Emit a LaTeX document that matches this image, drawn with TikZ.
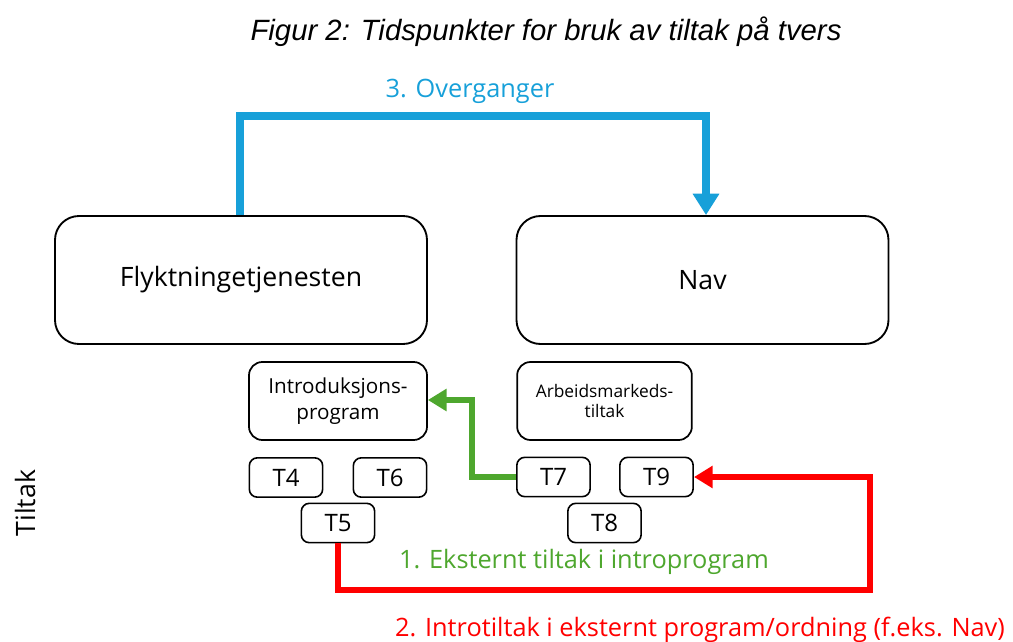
\documentclass[tikz,border=0pt]{standalone}
\usepackage{fontspec}
\setmainfont{Open Sans}
\newfontfamily\titlefont{Liberation Sans}
\usetikzlibrary{arrows.meta}
\definecolor{cblue}{HTML}{17A0D9}
\definecolor{cgreen}{HTML}{4EA72E}
\definecolor{cred}{HTML}{FF0000}
\tikzset{
  bigbox/.style={draw, line width=1.4pt, rounded corners=18pt, minimum width=279pt, minimum height=96pt, font=\fontsize{20}{24}\selectfont},
  midbox/.style={draw, line width=1.3pt, rounded corners=10pt, minimum height=58.5pt, align=center},
  tbox/.style={draw, line width=1.2pt, rounded corners=6pt, minimum width=55pt, minimum height=29.5pt, font=\fontsize{18}{21}\selectfont},
  lbl/.style={font=\fontsize{19}{23}\selectfont},
  conn/.style={line width=#1, line join=miter},
}
\begin{document}
\begin{tikzpicture}[x=0.75pt,y=-0.75pt]
\useasboundingbox (0,0) rectangle (1013,642);
\node[font=\titlefont\itshape\fontsize{22}{26}\selectfont] (title) at (546,32) {Figur 2: Tidspunkter for bruk av tiltak på tvers};
\node[bigbox] (fly) at (241,280) {Flyktningetjenesten};
\node[bigbox] (nav) at (702.5,280) {Nav};
\node[midbox, minimum width=133.5pt, font=\fontsize{15.5}{20}\selectfont] (intro) at (338,401) {Introduksjons-\\program};
\node[midbox, minimum width=131pt, font=\fontsize{13}{15}\selectfont] (arb) at (604.5,401) {Arbeidsmarkeds-\\tiltak};
\node[tbox] (t4) at (286,477.5) {T4};
\node[tbox] (t6) at (390,477.5) {T6};
\node[tbox] (t5) at (338,523) {T5};
\node[tbox] (t7) at (553.5,477) {T7};
\node[tbox] (t9) at (656.5,477) {T9};
\node[tbox] (t8) at (604.5,523) {T8};
\node[rotate=90, font=\fontsize{20}{24}\selectfont] (tiltak) at (25,503) {Tiltak};
% blue
\coordinate (bl) at (240,116);
\coordinate (br) at (706,116);
\draw[conn=6pt, cblue, -{Triangle[width=19pt,length=16pt]}] (fly.north -| bl) -- (bl) -- (br) -- (nav.north -| br);
\node[text=cblue, lbl] (lblue) at (470,91) {3. Overganger};
% green
\coordinate (g1) at (472,477);
\coordinate (g2) at (472,400);
\draw[conn=4.5pt, cgreen, -{Triangle[width=16pt,length=14pt]}] (t7.west) -- (g1) -- (g2) -- (intro.east |- g2);
\node[text=cgreen, lbl] (lgreen) at (584,562) {1. Eksternt tiltak i introprogram};
% red
\coordinate (r1) at (338,590);
\coordinate (r2) at (870,590);
\coordinate (r3) at (870,477);
\draw[conn=4.5pt, cred, -{Triangle[width=16pt,length=14pt]}] (t5.south) -- (r1) -- (r2) -- (r3) -- (t9.east);
\node[text=cred, lbl] (lred) at (700,630) {2. Introtiltak i eksternt program/ordning (f.eks. Nav)};
\end{tikzpicture}
\end{document}
